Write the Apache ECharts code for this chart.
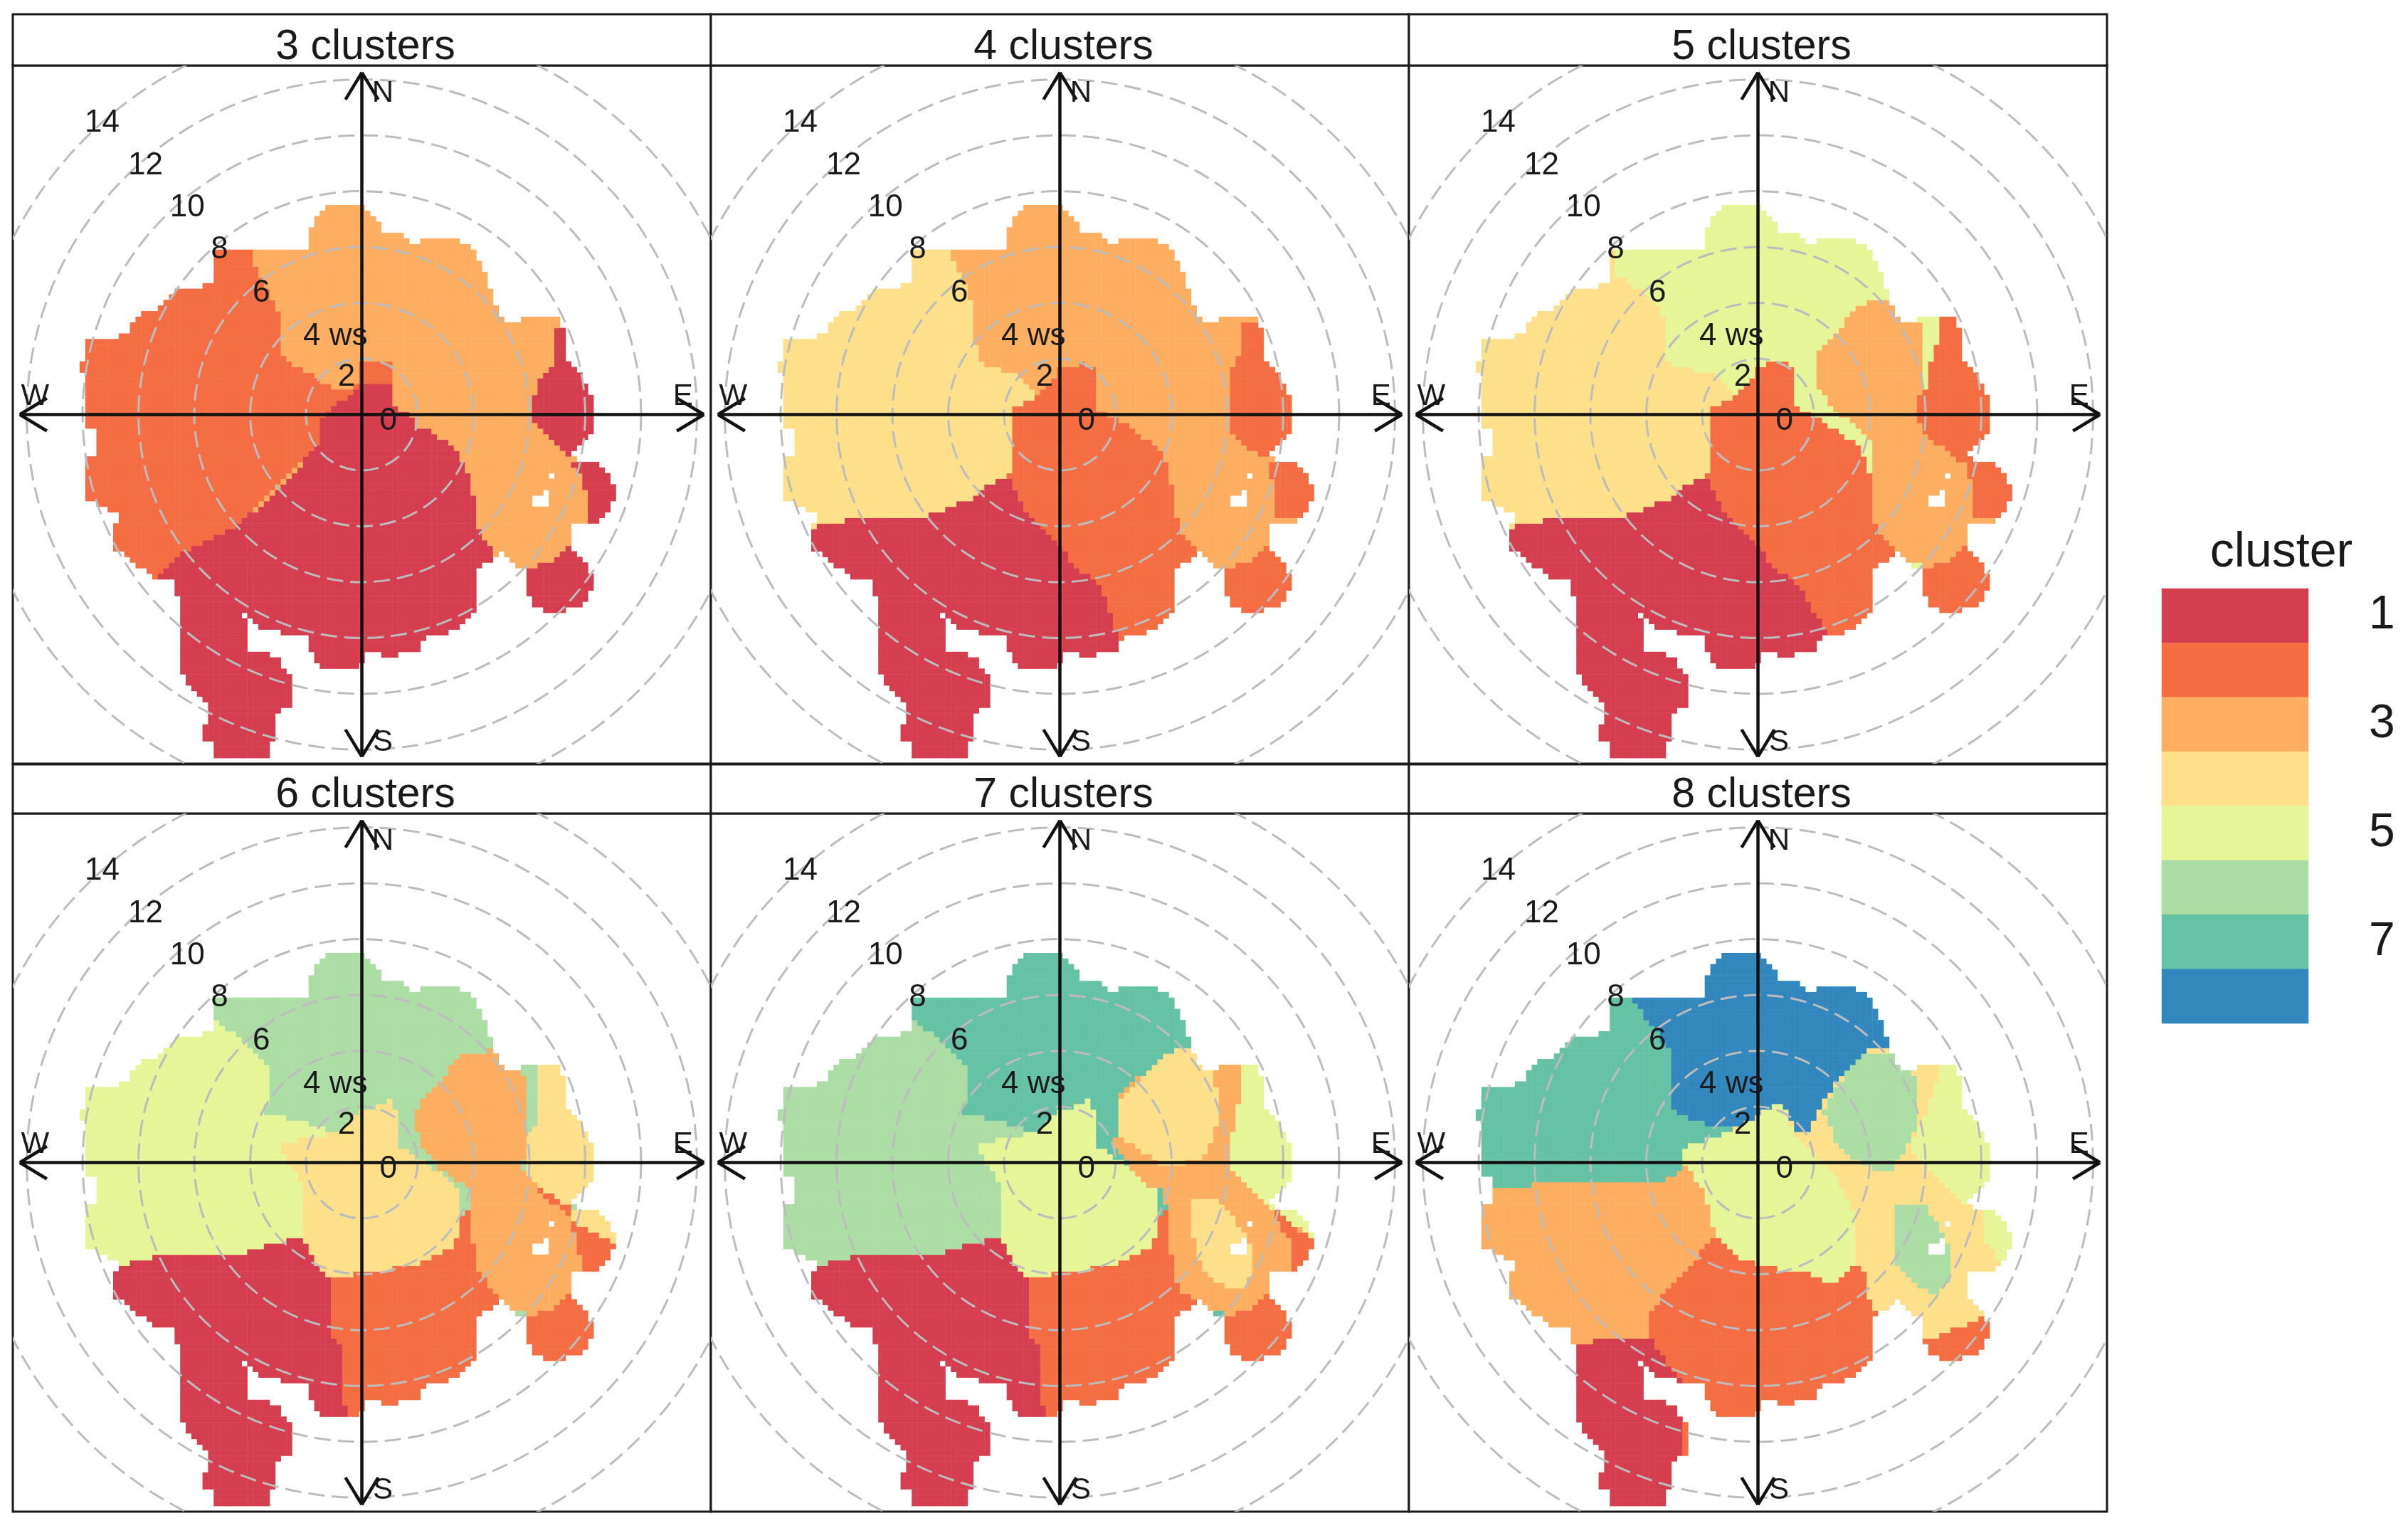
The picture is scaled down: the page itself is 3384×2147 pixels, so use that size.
<!DOCTYPE html>
<html>
<head>
<meta charset="utf-8">
<style>
  html, body { margin: 0; padding: 0; background: #fff; }
  #main { width: 3384px; height: 2147px; }
</style>
<script src="https://cdn.jsdelivr.net/npm/echarts@6/dist/echarts.min.js"></script>
</head>
<body>
<div id="main"></div>
<script>
// legend
const clusterIds = [1, 2, 3, 4, 5, 6, 7, 8];
const clusterColors = ['#D53E4F', '#F46D43', '#FDAE61', '#FEE08B', '#E6F598', '#ABDDA4', '#66C2A5', '#3288BD'];
const panelTitles = ['3 clusters', '4 clusters', '5 clusters', '6 clusters', '7 clusters', '8 clusters'];

// polar axis furniture, in wind speed units (u east, v north)
const ringValues = [2, 4, 6, 8, 10, 12, 14];
const tickLabels = ['0', '2', '4 ws', '6', '8', '10', '12', '14'];
const tickSpots = [[0.95, -0.25], [-0.55, 1.35], [-0.95, 2.8], [-3.6, 4.35], [-5.1, 5.9], [-6.25, 7.4], [-7.75, 8.9], [-9.3, 10.45]];
const compassLabels = ['N', 'E', 'S', 'W'];
const compassSpots = [[0.75, 11.5], [11.5, 0.65], [0.75, -11.75], [-11.7, 0.65]];
const axisArms = [[12.25, 0], [-12.25, 0], [0, 12.25], [0, -12.25]];

// outline of the cells that have data (same in every panel)
const roseOutline = [[-1.8, 6.6], [-1.5, 7.2], [-1.1, 7.5], [0, 7.5], [0.5, 7], [0.75, 6.6], [1.5, 6.5], [1.8, 6.15], [2.2, 6.2], [3.45, 6.25],
  [4.1, 5.8], [4.4, 5.1], [4.7, 4.2], [5.1, 3.3], [5.7, 3.3], [5.7, 3.55], [6.9, 3.55], [7.1, 3.3], [7.35, 3.05], [7.4, 1.9], [7.85, 1.45],
  [8.15, 0.85], [8.4, 0.1], [8.4, -0.4], [8.05, -0.95], [7.4, -1.55], [8.55, -1.8], [9.05, -2.55], [9.05, -3.05], [8.55, -3.8], [7.55, -3.95],
  [7.55, -4.85], [8.15, -5.55], [8.4, -5.8], [8.05, -6.7], [7, -7.15], [6.25, -6.9], [5.95, -6.35], [5.95, -5.55], [5.6, -5.55], [5, -4.95],
  [4.2, -5.55], [4.2, -6.7], [3.85, -7.3], [3.45, -7.7], [2.15, -8.05], [2.05, -8.5], [0.8, -8.65], [0.35, -8.4], [-0.15, -9], [-1.5, -9.1],
  [-1.85, -8.4], [-1.85, -7.95], [-3.6, -7.7], [-4.1, -7.3], [-4.1, -8.4], [-3.1, -8.65], [-2.45, -9.45], [-2.45, -10.35], [-3.1, -10.7],
  [-3.1, -11.4], [-3.35, -12.3], [-5.35, -12.3], [-5.35, -11.65], [-5.6, -11.6], [-5.6, -11.15], [-5.35, -10.7], [-6.5, -9.25], [-6.5, -6.9],
  [-6.75, -5.9], [-7.3, -5.9], [-8.05, -5.4], [-8.8, -4.85], [-8.95, -4.15], [-8.7, -3.6], [-9.8, -3], [-9.8, -1.55], [-9.45, -1.55], [-9.45, -0.6],
  [-9.8, -0.4], [-9.8, 1], [-10.05, 1.7], [-9.8, 2.6], [-8.3, 2.85], [-8.3, 3.3], [-7.75, 3.75], [-7.3, 3.75], [-6.65, 4.4], [-5.35, 4.65],
  [-5.35, 6], [-3.85, 6], [-2.95, 5.9], [-2.45, 5.8], [-1.9, 6]];
const roseHoles = [
  [[6.2, -2.85], [6.45, -2.85], [6.45, -2.6], [6.7, -2.6], [6.7, -3.3], [6.2, -3.3]],
  [[6.7, -2.05], [6.95, -2.05], [6.95, -2.25], [6.7, -2.25]],
  [[-4.3, -7.0], [-4.1, -7.0], [-4.1, -7.2], [-4.3, -7.2]]
];

// cluster areas; later areas are painted over earlier ones
const everywhere = [[-13, 13], [13, 13], [13, -13], [-13, -13]];
const seBlob = [[5.9, -5.45], [6.85, -5.3], [7.6, -4.5], [9, -4.5], [9, -8], [5.5, -8]];
const eastLobe = [[7.5, -1.65], [7.65, -2.75], [7.75, -3.7], [10, -4], [10, -1.6]];

const west3 = [[-11, 8], [-3.85, 8], [-3.85, 5.45], [-2.95, 3.65], [-2.95, 2.1], [-1.8, 1.45], [-0.9, 0.85], [-0.25, 0.85], [0, 1.9], [1.05, 2], [1.05, 0.85],
  [-1.5, -1], [-4.6, -4.05], [-6.4, -4.95], [-7.3, -5.9], [-11, -5.9]];
const south3 = [[0, 1.05], [1, 1.05], [1.25, 0.1], [1.9, -0.05], [1.9, -0.4], [2.25, -0.4], [3.45, -1.3], [3.95, -2.35], [4.1, -3.95], [4.9, -5.2], [5, -13], [-8, -13],
  [-7.3, -5.9], [-6.4, -4.95], [-4.6, -4.05], [-2.8, -2.6], [-2.45, -2.15], [-1.84, -1.4], [-1.43, -0.9], [-1.43, -0.1], [-1, 0.3], [-0.15, 0.9]];
const eastFinger3 = [[6.9, 3.2], [7.5, 3.2], [10, 1], [10, -1.5], [7.3, -1.5], [6.15, -0.3], [6.15, 0.5], [6.4, 1.2], [6.9, 1.9]];
const eastLobe3 = [[7.3, -1.6], [7.75, -1.9], [8.15, -3.05], [8.05, -3.9], [10, -4], [10, -1.6]];

const westLowerEdge = [[-1.65, 1.45], [-0.8, 0.65], [-1.65, 0.25], [-1.65, -1.5], [-1.8, -2.2], [-2.6, -2.5], [-3.1, -3], [-4.85, -3.65], [-6.9, -3.6], [-8.9, -4.05], [-11, -4.05]];
const west4 = [[-11, 8], [-3.8, 8], [-3.8, 5.55], [-3.1, 3.95], [-2.95, 1.85], ...westLowerEdge];
const west5 = [[-11, 8], [-5.1, 8], [-5.1, 5.05], [-4.1, 4.4], [-3.25, 3.4], [-3.25, 1.85], ...westLowerEdge];
const south45 = [[-11, -4.05], [-8.9, -4.05], [-6.9, -3.6], [-4.85, -3.65], [-3.1, -3], [-2.6, -2.5], [-1.8, -2.2], [0, -3.5], [3, -5], [3, -13], [-11, -13]];
const centre4 = [[0, 1.7], [0.9, 1.85], [1.3, 1.55], [1.3, 0.25], [1.9, -0.05], [2.35, -0.35], [3.5, -1.15], [3.9, -1.95], [4.15, -3.55], [4.4, -4.35], [5, -5], [5, -13], [2.3, -13],
  [2, -7.7], [1.55, -6.25], [0.6, -5.45], [0.1, -4.85], [-1.35, -3.25], [-1.8, -2.2], [-1.65, -1.5], [-1.65, 0.25], [-0.8, 0.65], [-0.15, 1.4]];
const eastFinger4 = [[6.5, 3.3], [7.5, 3.3], [10, 1], [10, -1.5], [7.2, -1.55], [6.15, -0.7], [6.1, 0.1], [6.15, 1.55], [6.5, 2.2]];
const centre5 = [[0, 1.7], [0.9, 2], [1.3, 1.55], [1.3, 0.25], [1.95, -0.05], [2.5, -0.35], [3.7, -1.15], [4, -2], [4.05, -3.55], [4.4, -4.35], [5, -5], [5, -13], [2.45, -13],
  [2.4, -7.7], [1.85, -6.75], [1.55, -6.2], [0.6, -5.45], [0.1, -4.85], [-1.35, -3.25], [-1.8, -2.2], [-1.65, -1.5], [-1.65, 0.25], [-0.8, 0.65], [-0.15, 1.4]];
const east5 = [[2.05, 2.05], [2.75, 2.9], [3.55, 3.8], [3.95, 4.05], [5, 4.05], [5, 3.6], [5.95, 3.15], [5.95, 1.4], [5.8, 0.6], [5.8, -0.2], [6.2, -0.9], [7.2, -1.55], [10, -1.6], [10, -4], [9, -4.5],
  [7.6, -4.5], [6.85, -5.3], [5.9, -5.45], [5, -5], [4.4, -4.35], [4.05, -3.55], [4.05, -0.85], [2.6, 0.3], [2.05, 1.25]];
const eastFinger5 = [[6.45, 3.8], [7.5, 3.8], [10, 1], [10, -1.5], [7.25, -1.65], [6.1, -0.85], [5.8, -0.2], [5.8, 0.6], [6.1, 1.05], [6.1, 1.55], [6.45, 2.6]];

const west67 = [[-11, 9], [-5.35, 9], [-5.35, 5.25], [-4.1, 4.2], [-3.35, 3.5], [-3.35, 2.25], [-3.55, 1.8], [-2.15, 1.45], [-0.9, 1.1], [-2.95, 0.65], [-2.8, 0.3], [-2.15, -0.75], [-2.15, -2.6],
  [-3.1, -2.9], [-4.3, -3.3], [-7.25, -3.3], [-8.8, -3.75], [-11, -3.75]];
const southwest67 = [[-11, -3.75], [-8.8, -3.75], [-7.25, -3.3], [-4.3, -3.3], [-3.1, -2.9], [-2.15, -2.6], [-1.65, -3.6], [-1.15, -4.1], [-1.15, -5.9], [-0.95, -6.4], [-0.75, -6.6], [-0.75, -8.2],
  [-0.5, -9.2], [-0.5, -13], [-11, -13]];
const centre67 = [[0, 1.8], [1, 2.25], [1.3, 1.7], [1.3, 0.65], [2.65, -0.25], [3.55, -1.05], [3.55, -2.35], [3.3, -3.05], [1.8, -3.7], [0, -3.95], [-1.15, -4.1], [-1.65, -3.6], [-2.15, -2.6],
  [-2.15, -0.75], [-2.8, 0.3], [-2.95, 0.65], [-0.9, 1.1]];
const southeast67 = [[-0.5, -13], [-0.5, -9.2], [-0.75, -8.2], [-0.75, -6.6], [-0.95, -6.4], [-1.15, -5.9], [-1.15, -4.1], [0, -3.95], [1.8, -3.7], [3.3, -3.05], [3.55, -2.35], [3.7, -1.2], [4, -2.9],
  [4.2, -3.9], [5, -5], [5, -13]];

const east6 = [[1.95, 1.9], [2.65, 2.8], [3.6, 3.85], [4.85, 4.05], [4.85, 3.6], [5.75, 3.2], [5.9, 2.95], [5.9, 0.85], [5.75, -0.3], [6.35, -0.85], [7.4, -1.65], [10, -1.65], [10, -4], [9, -4.5],
  [7.6, -4.5], [6.85, -5.3], [5.9, -5.45], [5, -5], [4.2, -3.9], [4, -2.9], [3.95, -0.95], [2.8, -0.25], [2.15, 0.65], [1.95, 1.35]];
const eastCap6 = [[6.4, 3.8], [10, 3.8], [10, -1.5], [7.4, -1.55], [6.35, -0.85], [5.9, -0.3], [5.9, 1], [6.4, 1.5]];
const eastStreak6 = [[6.35, -0.85], [7.4, -1.55], [7.55, -1.95], [6.4, -1.15]];
const lobeTip6 = [[7.5, -1.6], [10, -1.6], [10, -3], [8.9, -2.85], [7.5, -2.1]];
const lobeRest6 = [[7.5, -2.1], [8.9, -2.85], [10, -3], [10, -4], [7.9, -4], [7.75, -3.05]];

const east7 = [[2.05, 2.3], [3.75, 3.9], [5, 4.05], [5.55, 3.6], [6.6, 3.6], [6.6, 3.2], [6.45, 2.25], [6.2, 1], [6.05, -0.25], [7.65, -1.65], [10, -1.65], [10, -4], [9, -4.5],
  [7.6, -4.5], [6.85, -5.3], [5.9, -5.45], [5, -5], [4.25, -4.5], [3.95, -3.05], [3.75, -0.95], [3.3, -0.95], [1.8, 0.65], [2.05, 1]];
const northeast7 = [[2.05, 1], [2.05, 2.25], [2.95, 2.95], [3.75, 3.85], [4.2, 4.05], [5, 4.05], [5, 3.6], [5.55, 3.15], [5.7, 1.9], [5.55, 1], [5.15, 0.2], [4.25, -0.05], [3.6, -0.05], [2.65, 0.65]];
const eastCap7 = [[6.6, 3.8], [10, 3.8], [10, -1.5], [7.65, -1.65], [6.05, -0.25], [6.2, 1], [6.45, 2.25], [6.6, 3.2]];
const lobeTip7 = [[7.75, -1.6], [10, -1.6], [10, -3], [9.1, -2.85]];
const lobeStreak7 = [[7.75, -1.7], [9.1, -2.85], [10, -3], [10, -4], [8.4, -4], [8.4, -3], [7.7, -2]];
const midPatch7 = [[4.75, -1.4], [5.7, -1.3], [6.2, -1.9], [6.8, -2.8], [6.85, -3.95], [6.55, -4.55], [5.55, -4.3], [5.05, -3.75], [4.65, -2.2]];

const north8 = [[-4.55, 9], [-4.55, 5.9], [-4.05, 5.25], [-3.1, 4], [-3.1, 1.9], [-2.1, 1.45], [-0.8, 1.2], [0.1, 1.8], [0.9, 2.25], [1.3, 1.2], [1.85, 1.1], [2.45, 2.4], [3.35, 3.5], [3.9, 4], [4.8, 4.1], [5.5, 4.1], [5.5, 9]];
const west8 = [[-11, 9], [-4.55, 9], [-4.55, 5.9], [-4.05, 5.25], [-3.1, 4], [-3.1, 1.9], [-2.1, 1.45], [-0.8, 1.2], [-2.1, 0.75], [-2.75, 0.5], [-2.6, -0.15], [-3.25, -0.6], [-5.2, -0.75], [-11, -0.85]];
const southwest8 = [[-11, -0.85], [-5.2, -0.75], [-3.25, -0.6], [-2.6, -0.15], [-1.95, -0.95], [-1.55, -2.55], [-2.1, -3.3], [-3.35, -4.65], [-3.8, -5.35], [-3.9, -6.2], [-5.35, -6.25], [-6.5, -6.6], [-11, -6.6]];
const tail8 = [[-11, -6.6], [-6.5, -6.6], [-5.35, -6.25], [-3.9, -6.2], [-2.75, -7.85], [-2.75, -13], [-11, -13]];
const south8 = [[-1.55, -2.55], [-0.8, -3.3], [0.1, -3.75], [1.45, -3.85], [2.75, -4.4], [3.6, -3.6], [3.75, -3.6], [4, -4.9], [4.25, -5.4], [4.25, -13], [-2.75, -13], [-2.75, -7.85], [-3.9, -6.2], [-3.8, -5.35], [-3.35, -4.65], [-2.1, -3.3]];
const centre8 = [[0.1, 1.8], [0.9, 2.25], [1.3, 1], [2.95, -0.75], [3.5, -1.8], [3.6, -3.6], [2.75, -4.4], [1.45, -3.85], [0.1, -3.75], [-0.8, -3.3], [-1.55, -2.55], [-1.95, -0.95], [-2.6, -0.15], [-2.75, 0.5], [-2.1, 0.75], [-0.8, 1.15]];
const northeast8 = [[2.35, 1.9], [3.1, 3.15], [3.9, 4], [4.95, 4], [5.1, 3.3], [5.75, 3.15], [5.75, 1.7], [5.5, 0.85], [4.8, -0.25], [4.4, -0.4], [3.4, 0.2], [2.75, 0.85]];
const eastCap8 = [[6.5, 3.8], [10, 3.8], [10, -1.5], [7.4, -1.55], [6.35, -0.4], [5.45, 0.5], [6, 1.7], [6.5, 3.2]];
const lobeTip8 = [[8.05, -1.7], [10, -1.7], [10, -3.6], [8.6, -3.4], [8.2, -2.9], [8.05, -2.3]];
const midPatch8 = [[4.8, -1.4], [5.85, -1.4], [6.4, -2.1], [6.9, -3.05], [6.9, -4.1], [6.4, -4.75], [5.55, -4.3], [4.9, -3.5]];
const seTip8 = [[6, -6.4], [7, -6], [7.8, -5.7], [8.15, -5.3], [9, -5.3], [9, -8], [5.5, -8]];

const panelAreas = [
  [[3, everywhere], [2, west3], [1, south3], [1, eastFinger3], [1, eastLobe3], [1, seBlob]],
  [[3, everywhere], [4, west4], [1, south45], [2, centre4], [2, eastFinger4], [2, eastLobe], [2, seBlob]],
  [[5, everywhere], [4, west5], [1, south45], [2, centre5], [3, east5], [2, eastFinger5], [2, eastLobe], [2, seBlob]],
  [[6, everywhere], [5, west67], [1, southwest67], [2, southeast67], [4, centre67], [3, east6], [4, eastCap6], [2, eastStreak6], [4, lobeTip6], [2, lobeRest6], [2, seBlob]],
  [[7, everywhere], [6, west67], [1, southwest67], [2, southeast67], [5, centre67], [3, east7], [4, northeast7], [5, eastCap7], [5, lobeTip7], [2, lobeStreak7], [4, midPatch7], [2, seBlob]],
  [[4, everywhere], [8, north8], [7, west8], [3, southwest8], [1, tail8], [2, south8], [5, centre8], [6, northeast8], [5, eastCap8], [5, lobeTip8], [6, midPatch8], [2, seTip8]]
];

// wind speed cells are 0.2 wide, the panel runs from -12.5 to 12.5
const cellCentres = [];
for (let i = 0; i < 125; i++) cellCentres.push(+(-12.4 + i * 0.2).toFixed(1));

function inside(poly, u, v) {
  let hit = false;
  for (let a = 0, b = poly.length - 1; a < poly.length; b = a++) {
    if ((poly[a][1] > v) !== (poly[b][1] > v) &&
        u < (poly[b][0] - poly[a][0]) * (v - poly[a][1]) / (poly[b][1] - poly[a][1]) + poly[a][0]) hit = !hit;
  }
  return hit;
}

function panelCells(areas) {
  const cells = [];
  cellCentres.forEach((u, i) => {
    cellCentres.forEach((v, j) => {
      if (!inside(roseOutline, u, v) || roseHoles.some(h => inside(h, u, v))) return;
      let cluster = 0;
      areas.forEach(a => { if (inside(a[1], u, v)) cluster = a[0]; });
      cells.push([i, j, cluster]);
    });
  });
  return cells;
}

const inkColor = '#1a1a1a';
const fontName = 'Liberation Sans';
const panelLeft = [18, 999, 1980];
const panelTop = [92, 1143];
const panelSize = 981;
const stripTop = [20, 1074];

const grids = [], xAxes = [], yAxes = [], titles = [], series = [];

panelTitles.forEach((name, p) => {
  const left = panelLeft[p % 3];
  const row = Math.floor(p / 3);
  grids.push({ left: left, top: panelTop[row], width: panelSize, height: panelSize, show: true, borderColor: inkColor, borderWidth: 3, backgroundColor: '#fff' });

  xAxes.push({ gridIndex: p, type: 'category', data: cellCentres, show: false });
  yAxes.push({ gridIndex: p, type: 'category', data: cellCentres, show: false });
  xAxes.push({ gridIndex: p, type: 'value', min: -12.5, max: 12.5, show: false });
  yAxes.push({ gridIndex: p, type: 'value', min: -12.5, max: 12.5, show: false });

  titles.push({
    text: name, left: left + panelSize / 2, top: panelTop[row] - 30, textAlign: 'center', textVerticalAlign: 'middle',
    textStyle: { fontFamily: fontName, fontSize: 59, fontWeight: 'normal', color: inkColor }
  });

  series.push({
    type: 'heatmap', xAxisIndex: p * 2, yAxisIndex: p * 2, data: panelCells(panelAreas[p]),
    progressive: 0, silent: true, z: 1
  });

  const valueAxes = { coordinateSystem: 'cartesian2d', xAxisIndex: p * 2 + 1, yAxisIndex: p * 2 + 1, silent: true };

  series.push(Object.assign({
    type: 'custom', clip: true, z: 2, data: ringValues.map(r => [r]),
    renderItem: (params, api) => {
      const c = api.coord([0, 0]);
      const edge = api.coord([api.value(0), 0]);
      return {
        type: 'circle',
        shape: { cx: c[0], cy: c[1], r: edge[0] - c[0] },
        style: { fill: null, stroke: '#bcbcbc', lineWidth: 3, lineDash: [23, 10] }
      };
    }
  }, valueAxes));

  series.push(Object.assign({
    type: 'custom', z: 3, data: axisArms,
    renderItem: (params, api) => {
      const u = api.value(0), v = api.value(1);
      const c = api.coord([0, 0]);
      const tip = api.coord([u, v]);
      const dx = Math.sign(u), dy = -Math.sign(v);
      const barb = (side) => [tip[0] - dx * 38 + dy * side * 23, tip[1] - dy * 38 + dx * side * 23];
      const stroke = { stroke: '#111', lineWidth: 4.5 };
      const seg = (a, b) => ({ type: 'line', shape: { x1: a[0], y1: a[1], x2: b[0], y2: b[1] }, style: stroke });
      return { type: 'group', children: [seg(c, tip), seg(tip, barb(1)), seg(tip, barb(-1))] };
    }
  }, valueAxes));

  const textSeries = (spots, texts, size) => Object.assign({
    type: 'custom', z: 4, data: spots,
    renderItem: (params, api) => {
      const at = api.coord([api.value(0), api.value(1)]);
      return {
        type: 'text',
        style: { text: texts[params.dataIndex], x: at[0], y: at[1], align: 'center', verticalAlign: 'middle', font: size + 'px "' + fontName + '"', fill: inkColor }
      };
    }
  }, valueAxes);
  series.push(textSeries(tickSpots, tickLabels, 44));
  series.push(textSeries(compassSpots, compassLabels, 42));
});

// strips above the panels
panelTitles.forEach((name, p) => {
  const row = Math.floor(p / 3);
  grids.push({ left: panelLeft[p % 3], top: stripTop[row], width: panelSize, height: panelTop[row] - stripTop[row], show: true, borderColor: inkColor, borderWidth: 3, backgroundColor: '#fff' });
});

// legend: one column of cells with its own axis
const legendGrid = grids.length;
grids.push({ left: 3038, top: 827, width: 206, height: 611 });
xAxes.push({ gridIndex: legendGrid, type: 'category', data: ['cluster'], show: false });
yAxes.push({
  gridIndex: legendGrid, type: 'category', data: clusterIds, inverse: true, position: 'right',
  axisLine: { show: false }, axisTick: { show: false },
  axisLabel: { margin: 85, fontFamily: fontName, fontSize: 66, color: inkColor, padding: [10, 0, 0, 0] }
});
titles.push({
  text: 'cluster', left: 3201, top: 772, textAlign: 'center', textVerticalAlign: 'middle',
  textStyle: { fontFamily: fontName, fontSize: 68, fontWeight: 'normal', color: inkColor }
});
series.push({
  type: 'heatmap', xAxisIndex: panelTitles.length * 2, yAxisIndex: panelTitles.length * 2,
  data: clusterIds.map((c, i) => [0, i, c]), progressive: 0, silent: true, z: 1
});

const heatmapIndexes = series.map((s, i) => s.type === 'heatmap' ? i : -1).filter(i => i >= 0);

const chart = echarts.init(document.getElementById('main'));
chart.setOption({
  animation: false,
  backgroundColor: '#fff',
  title: titles,
  grid: grids,
  xAxis: xAxes,
  yAxis: yAxes,
  visualMap: {
    type: 'piecewise', show: false, dimension: 2, seriesIndex: heatmapIndexes,
    pieces: clusterIds.map((c, i) => ({ value: c, color: clusterColors[i] }))
  },
  series: series
});
</script>
</body>
</html>
